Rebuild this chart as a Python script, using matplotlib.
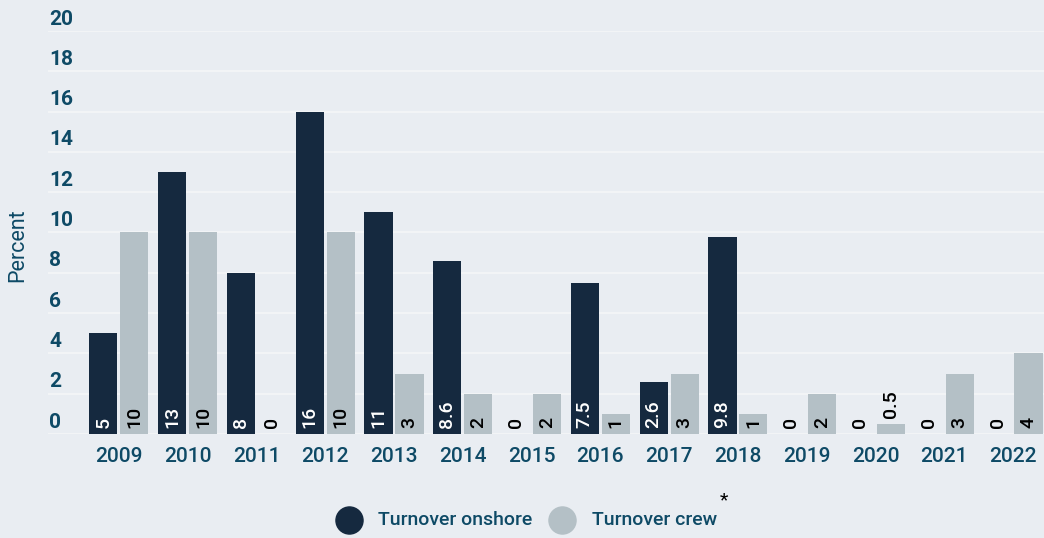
import numpy as np
import matplotlib.pyplot as plt
import matplotlib.transforms as mtransforms

plt.rcParams['font.family'] = ['Roboto', 'DejaVu Sans']

# data
years = ['2009', '2010', '2011', '2012', '2013', '2014', '2015',
         '2016', '2017', '2018', '2019', '2020', '2021', '2022']
onshore = [5, 13, 8, 16, 11, 8.6, 0, 7.5, 2.6, 9.8, 0, 0, 0, 0]
crew = [10, 10, 0, 10, 3, 2, 2, 1, 3, 1, 2, 0.5, 3, 4]
yticks = [0, 2, 4, 6, 8, 10, 12, 14, 16, 18, 20]

bg = '#E9EDF2'
dark = '#15293F'
light = '#B4C0C6'
txt = '#0E4A66'

fig = plt.figure(figsize=(10.44, 5.38), dpi=100, facecolor=bg)
ax = fig.add_axes([48 / 1044, 104 / 538, 1 - 48 / 1044, 403 / 538])
ax.set_facecolor(bg)

x = np.arange(len(years))
w = 0.41
off = 0.225
ax.bar(x - off, onshore, w, color=dark, zorder=2)
ax.bar(x + off, crew, w, color=light, zorder=2)

# value labels, rotated, at the bottom of each bar
def label(xs, vals, bars_dark):
    for xi, v in zip(xs, vals):
        s = ('%g' % v)
        if v == 0:
            col, y = 'black', 0.3
        elif v < 1:
            col, y = 'black', v + 0.3
        else:
            col, y = ('white' if bars_dark else 'black'), 0.3
        ax.text(xi, y, s, rotation=90, ha='center', va='bottom',
                fontsize=14, fontweight='medium', color=col, zorder=3)

label(x - off, onshore, True)
label(x + off, crew, False)

ax.set_xlim(-1.03, 13.45)
ax.set_ylim(0, 20)
for sp in ax.spines.values():
    sp.set_visible(False)
ax.set_yticks(yticks)
ax.set_yticklabels([])
ax.tick_params(axis='y', length=0)
ax.yaxis.grid(True, color='#F4F6F8', linewidth=1.2, zorder=0)
ax.set_axisbelow(True)

trans = mtransforms.blended_transform_factory(ax.transAxes, ax.transData)
for t in yticks:
    ax.text(0.001, t + 0.32, str(t), transform=trans, ha='left', va='baseline',
            fontsize=15, fontweight='bold', color=txt, clip_on=False)

ax.set_xticks(x)
ax.set_xticklabels(years, fontsize=15, fontweight='medium', color=txt)
ax.tick_params(axis='x', length=0, pad=9)

fig.text(18 / 1044, 1 - 245 / 538, 'Percent', rotation=90, ha='center',
         va='center', fontsize=15.5, color=txt)

# legend
h1 = ax.scatter([], [], s=380, color=dark)
h2 = ax.scatter([], [], s=380, color=light)
fig.legend([h1, h2], ['Turnover onshore', 'Turnover crew'],
           loc='center', bbox_to_anchor=(523 / 1044, 1 - 520 / 538),
           ncol=2, frameon=False, handletextpad=0.5,
           columnspacing=0.55, labelcolor=txt, prop={'weight': 'medium', 'size': 14})
fig.text(724 / 1044, 1 - 500 / 538, '*', ha='center', va='center',
         fontsize=14, color='black')

fig.savefig('out.png', dpi=100, facecolor=bg)
